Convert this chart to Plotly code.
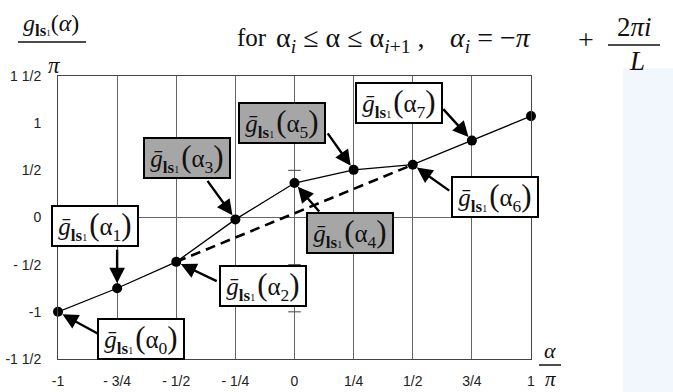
import plotly.graph_objects as go

# Sample points alpha/pi and the piecewise-linear values g/pi
alpha = [-1.0, -0.75, -0.5, -0.25, 0.0, 0.25, 0.5, 0.75, 1.0]
g_vals = [-1.0, -0.75, -0.47, -0.02, 0.365, 0.505, 0.56, 0.815, 1.075]

# Chord from alpha_2 to alpha_6 drawn dashed
chord_idx = [2, 6]

# Axis ticks
x_ticks = [-1, -0.75, -0.5, -0.25, 0, 0.25, 0.5, 0.75, 1]
x_ticktext = ["-1", "- 3/4", "- 1/2", "- 1/4", "0", "1/4", "1/2", "3/4", "1"]
y_ticks = [-1.5, -1, -0.5, 0, 0.5, 1, 1.5]
y_ticktext = ["-1 1/2", "-1", "- 1/2", "0", "1/2", "1", "1 1/2"]

# Small tick marks on the alpha = 0 line
zero_line_marks = [-1.0, -0.5, 0.5, 1.0]

# Labelled samples, which label boxes are shaded
labels = [0, 1, 2, 3, 4, 5, 6, 7]
shaded = [3, 4, 5]

# Label box centres (data coords) and arrow tail offsets (px) for each label
box_pos = {
    0: (-0.650, -1.288), 1: (-0.845, -0.090), 2: (-0.135, -0.722),
    3: (-0.454, 0.628), 4: (0.235, -0.161), 5: (-0.054, 1.003),
    6: (0.846, 0.215), 7: (0.440, 1.215),
}
arrow_tail = {
    0: (42, 23), 1: (0, -40), 2: (42, 20), 3: (-29, -40),
    4: (26, 30), 5: (-27, -38), 6: (38, 27), 7: (-30, -33),
}

W, H = 673, 392
ML, MR, MT, MB = 58, 142, 76, 33
PW, PH = W - ML - MR, H - MT - MB


def px(xp):
    return (xp - ML) / PW


def py(yp):
    return (H - MB - yp) / PH


SERIF = "Liberation Serif, Times New Roman, serif"
SANS = "Liberation Sans, Arial, sans-serif"
INK = "#111"

fig = go.Figure()

fig.add_trace(go.Scatter(
    x=[alpha[i] for i in chord_idx], y=[g_vals[i] for i in chord_idx],
    mode="lines", line=dict(color="black", width=2.6, dash="10px,6px"),
    hoverinfo="skip", showlegend=False,
))
fig.add_trace(go.Scatter(
    x=alpha, y=g_vals, mode="lines+markers",
    line=dict(color="black", width=1.3),
    marker=dict(color="black", size=10),
    cliponaxis=False, showlegend=False,
))
fig.add_trace(go.Scatter(
    x=[0] * len(zero_line_marks), y=zero_line_marks, mode="markers",
    marker=dict(symbol="line-ew", size=9, line=dict(color="#444", width=1)),
    hoverinfo="skip", showlegend=False,
))


def box_text(k):
    return ("<i>ḡ</i><sub><b><span style='font-size:17px'>ls</span></b>"
            "<span style='font-size:10px'>1</span></sub>"
            "<span style='font-size:8px'> </span>"
            "<span style='font-size:31px'>(</span>α<sub>%d</sub>"
            "<span style='font-size:31px'>)</span>" % k)


annotations = []
for k in labels:
    xi, yi = alpha[k], g_vals[k]
    ax, ay = arrow_tail[k]
    annotations.append(dict(
        x=xi, y=yi, xref="x", yref="y", text="", showarrow=True,
        ax=ax, ay=ay, arrowhead=2, arrowsize=1.3, arrowwidth=2.4,
        arrowcolor="black", standoff=5,
    ))
for k in labels:
    bx, by = box_pos[k]
    annotations.append(dict(
        x=bx, y=by, xref="x", yref="y", text=box_text(k), showarrow=False,
        font=dict(family=SERIF, size=25, color=INK),
        width=82, height=36, bgcolor="#a6a6a6" if k in shaded else "white",
        bordercolor="black", borderwidth=2, borderpad=1,
        xanchor="center", yanchor="middle",
    ))


def paper_text(xp, yp, text, size=22, xanchor="center"):
    return dict(x=px(xp), y=py(yp), xref="paper", yref="paper",
                showarrow=False, text=text, xanchor=xanchor,
                yanchor="middle", font=dict(family=SERIF, size=size, color=INK))


annotations += [
    # Vertical axis title as a fraction
    paper_text(51, 25, "<i>g</i><sub><b>ls</b><span style='font-size:9px'>1</span>"
                       "</sub>(<i>α</i>)", size=24),
    paper_text(54, 66, "<i>π</i>", size=23),
    # Horizontal axis title as a fraction
    paper_text(550, 350, "<i>α</i>", size=22),
    paper_text(550, 379, "<i>π</i>", size=21),
    # Interval definition
    paper_text(235, 38, "for", size=25, xanchor="left"),
    paper_text(274, 40, "α<sub><i>i</i></sub>\u00a0≤\u00a0α\u00a0≤\u00a0"
                        "α<sub><i>i</i>+1</sub>\u00a0,", size=28, xanchor="left"),
    paper_text(448, 40, "<i>α<sub>i</sub></i>\u00a0=\u00a0−<i>π</i>", size=28,
               xanchor="left"),
    paper_text(586, 40, "+", size=28),
    paper_text(634, 27, "2<i>πi</i>", size=27),
    paper_text(637, 61, "<i>L</i>", size=27),
]

shapes = [
    dict(type="rect", xref="paper", yref="paper", x0=px(623), x1=px(680),
         y0=py(400), y1=py(68), fillcolor="#f2f7fd", line=dict(width=0),
         layer="below"),
    dict(type="line", xref="paper", yref="paper", x0=px(18), x1=px(86),
         y0=py(42), y1=py(42), line=dict(color=INK, width=1.5)),
    dict(type="line", xref="paper", yref="paper", x0=px(539), x1=px(561),
         y0=py(365), y1=py(365), line=dict(color=INK, width=1.5)),
    dict(type="line", xref="paper", yref="paper", x0=px(608), x1=px(660),
         y0=py(45), y1=py(45), line=dict(color=INK, width=1.5)),
]

axis_common = dict(
    showline=True, linecolor="#444", linewidth=1, mirror=True,
    ticks="outside", tickcolor="rgba(0,0,0,0)",
    tickfont=dict(family=SANS, size=14, color="#222"),
    fixedrange=True, automargin=False,
)

fig.update_layout(
    width=W, height=H,
    margin=dict(l=ML, r=MR, t=MT, b=MB, pad=0, autoexpand=False),
    paper_bgcolor="white", plot_bgcolor="white",
    annotations=annotations, shapes=shapes,
    xaxis=dict(
        range=[-1, 1], tickvals=x_ticks, ticktext=x_ticktext,
        showgrid=True, gridcolor="#666", gridwidth=1, zeroline=False,
        ticklen=9, **axis_common,
    ),
    yaxis=dict(
        range=[-1.5, 1.5], tickvals=y_ticks, ticktext=y_ticktext,
        showgrid=False, zeroline=True, zerolinecolor="#666", zerolinewidth=1,
        ticklen=13, **axis_common,
    ),
)

fig.write_html("out.html")
